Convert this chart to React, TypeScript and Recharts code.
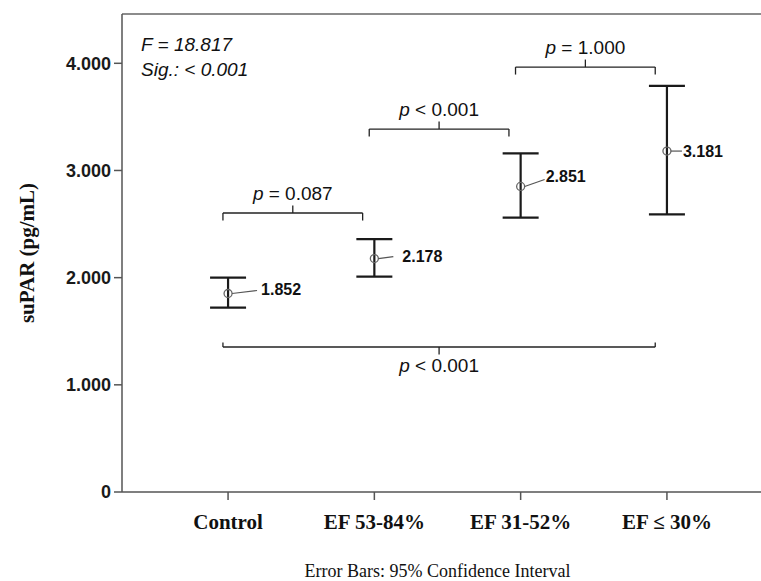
import {
  ComposedChart,
  Scatter,
  ErrorBar,
  XAxis,
  YAxis,
  ReferenceLine,
  ReferenceDot,
} from 'recharts'

const groups = ['Control', 'EF 53-84%', 'EF 31-52%', 'EF ≤ 30%']
const means = [1.852, 2.178, 2.851, 3.181]
const ciLower = [1.72, 2.01, 2.56, 2.59]
const ciUpper = [2.0, 2.36, 3.16, 3.79]
const yTicks = [0, 1, 2, 3, 4]

// pairwise comparisons: from group, to group, p-value text
const compFrom = [0, 1, 2, 0]
const compTo = [1, 2, 3, 3]
const compText = ['= 0.087', '< 0.001', '= 1.000', '< 0.001']

// bracket layout (data units), kept apart from the values
const bracketLevel = [2.603, 3.386, 3.965, 1.353]
const bracketBelow = [false, false, false, true]
const TICK = 0.07

const rows = groups.map((g, i) => ({
  idx: i,
  group: g,
  mean: means[i],
  err: [means[i] - ciLower[i], ciUpper[i] - means[i]],
}))

// leader line / value label offsets in px
const LEADER = [
  { lx: 29, ly: -3, tx: 33, ty: -4 },
  { lx: 19, ly: -2, tx: 28, ty: -2 },
  { lx: 24, ly: -7, tx: 25, ty: -10 },
  { lx: 15, ly: 0, tx: 16, ty: 0 },
]

const SANS = 'Liberation Sans, Arial, sans-serif'
const SERIF = 'Liberation Serif, Times New Roman, serif'
const AXIS = '#555'

function MeanMark(props: any) {
  const { cx, cy, payload } = props
  const o = LEADER[payload.idx]
  return (
    <g>
      <circle cx={cx} cy={cy} r={4} fill="none" stroke="#666" strokeWidth={1.3} />
      <line x1={cx + 4} y1={cy} x2={cx + o.lx} y2={cy + o.ly} stroke="#555" strokeWidth={1.2} />
      <text
        x={cx + o.tx}
        y={cy + o.ty}
        dominantBaseline="central"
        fontFamily={SANS}
        fontWeight="bold"
        fontSize={16}
        fill="#111"
      >
        {means[payload.idx].toFixed(3)}
      </text>
    </g>
  )
}

export default function App() {
  const brackets = compFrom.map((a, i) => {
    const b = compTo[i]
    const x1 = a - 0.035
    const x2 = b - 0.08
    const below = bracketBelow[i]
    return {
      x1,
      x2,
      mid: (x1 + x2) / 2,
      y: bracketLevel[i],
      endY: bracketLevel[i] + (below ? TICK * 0.6 : -TICK),
      midY: bracketLevel[i] + (below ? -TICK : TICK),
      text: compText[i],
      below,
    }
  })

  return (
    <div style={{ position: 'absolute', left: 0, top: 0, width: 761, height: 581, background: '#fff' }}>
      <ComposedChart
        width={761}
        height={581}
        data={rows}
        margin={{ top: 14, right: 0, bottom: 0, left: 0 }}
      >
        <XAxis
          type="number"
          dataKey="idx"
          domain={[-0.725, 3.643]}
          ticks={[0, 1, 2, 3]}
          interval={0}
          allowDataOverflow
          tickFormatter={(v: number) => groups[v] ?? ''}
          height={89}
          stroke={AXIS}
          strokeWidth={1.5}
          tickSize={8}
          tickMargin={14}
          tick={{ fontFamily: SERIF, fontWeight: 'bold', fontSize: 21, fill: '#111' }}
          label={{
            content: ({ viewBox }: any) => (
              <text
                x={viewBox.x + viewBox.width / 2 - 4}
                y={viewBox.y + 85}
                textAnchor="middle"
                fontFamily={SERIF}
                fontSize={18}
                fill="#111"
              >
                Error Bars: 95% Confidence Interval
              </text>
            ),
          }}
        />
        <YAxis
          type="number"
          domain={[0, 4.46]}
          ticks={yTicks}
          allowDataOverflow
          width={122}
          stroke={AXIS}
          strokeWidth={1.5}
          tickSize={8}
          tickMargin={3}
          tickFormatter={(v: number) => (v === 0 ? '0' : v.toFixed(3))}
          tick={{ fontFamily: SANS, fontWeight: 'bold', fontSize: 18, fill: '#1a1a1a' }}
          label={{
            content: ({ viewBox }: any) => {
              const x = viewBox.x + 27
              const y = viewBox.y + viewBox.height / 2
              return (
                <text
                  x={x}
                  y={y}
                  transform={`rotate(-90 ${x} ${y})`}
                  textAnchor="middle"
                  dominantBaseline="central"
                  fontFamily={SERIF}
                  fontWeight="bold"
                  fontSize={21}
                  fill="#111"
                >
                  suPAR (pg/mL)
                </text>
              )
            },
          }}
        />
        <ReferenceLine y={4.46} stroke="#666" strokeWidth={1.5} />

        {brackets.map((br, i) => (
          <g key={'br' + i}>
            <ReferenceLine
              segment={[{ x: br.x1, y: br.y }, { x: br.x2, y: br.y }]}
              stroke="#222"
              strokeWidth={1.3}
            />
            <ReferenceLine
              segment={[{ x: br.x1, y: br.y }, { x: br.x1, y: br.endY }]}
              stroke="#222"
              strokeWidth={1.3}
            />
            <ReferenceLine
              segment={[{ x: br.x2, y: br.y }, { x: br.x2, y: br.endY }]}
              stroke="#222"
              strokeWidth={1.3}
            />
            <ReferenceLine
              segment={[{ x: br.mid, y: br.y }, { x: br.mid, y: br.midY }]}
              stroke="#222"
              strokeWidth={1.3}
            />
            <ReferenceDot
              x={br.mid}
              y={br.y}
              r={1}
              fill="none"
              stroke="none"
              label={{
                content: ({ viewBox }: any) => {
                  const cx = viewBox.x + (viewBox.width || 0) / 2
                  const cy = viewBox.y + (viewBox.height || 0) / 2
                  return (
                    <text
                      x={cx}
                      y={br.below ? cy + 25 : cy - 13}
                      textAnchor="middle"
                      fontFamily={SANS}
                      fontSize={19}
                      fill="#111"
                    >
                      <tspan fontStyle="italic">p</tspan>
                      {' ' + br.text}
                    </text>
                  )
                },
              }}
            />
          </g>
        ))}

        <Scatter dataKey="mean" isAnimationActive={false} shape={MeanMark}>
          <ErrorBar
            dataKey="err"
            direction="y"
            width={18}
            stroke="#1a1a1a"
            strokeWidth={2.2}
            isAnimationActive={false}
          />
        </Scatter>

        <ReferenceDot
          x={-0.725}
          y={4.46}
          r={1}
          fill="none"
          stroke="none"
          ifOverflow="visible"
          label={{
            content: ({ viewBox }: any) => (
              <text x={viewBox.x + 20} y={viewBox.y} fontFamily={SANS} fontStyle="italic" fontSize={19} fill="#111">
                <tspan x={viewBox.x + 20} dy={38}>F = 18.817</tspan>
                <tspan x={viewBox.x + 20} dy={25}>Sig.: &lt; 0.001</tspan>
              </text>
            ),
          }}
        />
      </ComposedChart>
    </div>
  )
}
